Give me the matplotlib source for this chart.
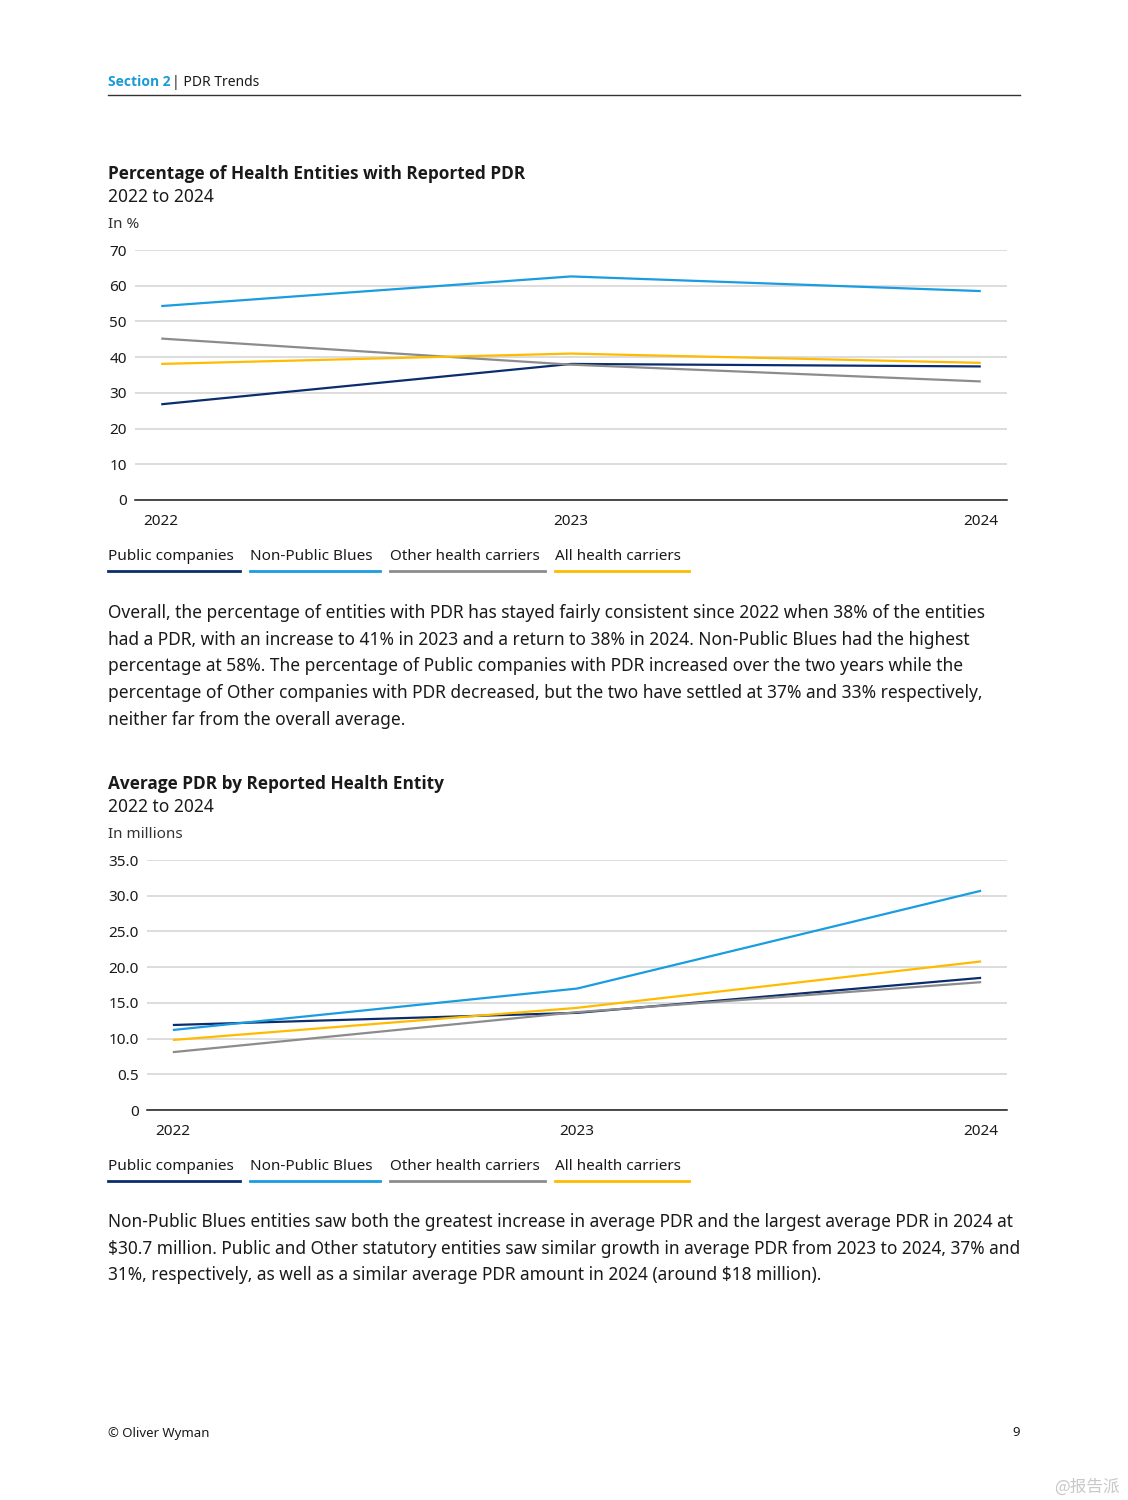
import matplotlib
matplotlib.use('Agg')
import matplotlib.pyplot as plt
from matplotlib.lines import Line2D

plt.rcParams['font.family'] = ['Noto Sans', 'DejaVu Sans']

W, H = 1128, 1500

years = ['2022', '2023', '2024']
series = ['Public companies', 'Non-Public Blues', 'Other health carriers', 'All health carriers']
colors = ['#0b2d6e', '#1a9de0', '#8c8c8c', '#ffbb00']

# chart 1: percentage of entities with reported PDR (in %)
pct_public = [26.8, 38.1, 37.4]
pct_blues = [54.3, 62.6, 58.5]
pct_other = [45.2, 37.9, 33.2]
pct_all = [38.1, 41.0, 38.4]
pct_ticks = [0, 10, 20, 30, 40, 50, 60, 70]
pct_labels = ['0', '10', '20', '30', '40', '50', '60', '70']

# chart 2: average PDR (in millions)
avg_public = [11.9, 13.6, 18.5]
avg_blues = [11.2, 17.0, 30.7]
avg_other = [8.1, 13.7, 17.9]
avg_all = [9.8, 14.3, 20.8]
avg_ticks = [0, 5, 10, 15, 20, 25, 30, 35]
avg_labels = ['0', '0.5', '10.0', '15.0', '20.0', '25.0', '30.0', '35.0']

text1 = ("Overall, the percentage of entities with PDR has stayed fairly consistent since 2022 when 38% of the entities\n"
         "had a PDR, with an increase to 41% in 2023 and a return to 38% in 2024. Non-Public Blues had the highest\n"
         "percentage at 58%. The percentage of Public companies with PDR increased over the two years while the\n"
         "percentage of Other companies with PDR decreased, but the two have settled at 37% and 33% respectively,\n"
         "neither far from the overall average.")
text2 = ("Non-Public Blues entities saw both the greatest increase in average PDR and the largest average PDR in 2024 at\n"
         "$30.7 million. Public and Other statutory entities saw similar growth in average PDR from 2023 to 2024, 37% and\n"
         "31%, respectively, as well as a similar average PDR amount in 2024 (around $18 million).")

BOLD = ['Open Sans', 'DejaVu Sans']

fig = plt.figure(figsize=(W / 100, H / 100), dpi=100)
fig.patch.set_facecolor('white')


def fx(px):
    return px / W


def fy(py):
    return 1 - py / H


def txt(x, y, s, **kw):
    kw.setdefault('color', '#1a1a1a')
    kw.setdefault('va', 'center')
    fig.text(fx(x), fy(y), s, **kw)


# header
txt(108, 82, 'Section 2', color='#1a9ad6', fontsize=10, fontweight='bold', family=BOLD)
txt(172, 82, '| PDR Trends', fontsize=10)
fig.add_artist(Line2D([fx(108), fx(1020)], [fy(95), fy(95)], color='#333333', lw=1.0))


def draw_chart(left, top, bottom, data, ticks, labels, ymax, title, unit, title_y, legend_y):
    ax = fig.add_axes([fx(left), fy(bottom), fx(1007) - fx(left), fy(top) - fy(bottom)])
    x = range(len(years))
    for vals, c in zip(data, colors):
        ax.plot(x, vals, color=c, lw=1.6, solid_capstyle='butt')
    ax.set_xlim(-0.064, 2.064)
    ax.set_ylim(0, ymax)
    ax.set_yticks(ticks)
    ax.set_yticklabels(labels)
    ax.set_xticks(list(x))
    ax.set_xticklabels(years)
    ax.grid(axis='y', color='#dadada', lw=1.3)
    ax.set_axisbelow(True)
    for s in ['top', 'right', 'left']:
        ax.spines[s].set_visible(False)
    ax.spines['bottom'].set_color('#1a1a1a')
    ax.spines['bottom'].set_linewidth(1.1)
    ax.tick_params(length=0, labelsize=11, colors='#1a1a1a')
    ax.tick_params(axis='y', pad=6)
    ax.tick_params(axis='x', pad=10)
    ax.patch.set_alpha(0)

    txt(108, title_y + 2, title, fontsize=12.4, fontweight='bold', family=BOLD)
    txt(108, title_y + 25, '2022 to 2024', fontsize=12.5)
    txt(108, title_y + 53, unit, fontsize=11, color='#333333')

    # legend: text with coloured underline
    starts = [108, 250, 390, 555]
    ends = [240, 380, 545, 689]
    for name, c, x0, x1 in zip(series, colors, starts, ends):
        txt(x0, legend_y + 1, name, fontsize=11)
        fig.add_artist(Line2D([fx(x0), fx(x1)], [fy(legend_y + 15), fy(legend_y + 15)], color=c, lw=2.0))
    return ax


draw_chart(135, 250, 500, [pct_public, pct_blues, pct_other, pct_all], pct_ticks, pct_labels, 70,
           'Percentage of Health Entities with Reported PDR', 'In %', 172, 556)
txt(108, 604, text1, fontsize=12.5, va='top', linespacing=1.62)

draw_chart(147, 860, 1110, [avg_public, avg_blues, avg_other, avg_all], avg_ticks, avg_labels, 35,
           'Average PDR by Reported Health Entity', 'In millions', 782, 1166)
txt(108, 1213, text2, fontsize=12.45, va='top', linespacing=1.62)

# footer
txt(108, 1433, '\u00a9 Oliver Wyman', fontsize=9.5)
txt(1020, 1433, '9', fontsize=9.5, ha='right')
txt(1120, 1487, '@报告派', fontsize=12, ha='right', color='#c8c8c8',
    family=['Noto Sans CJK SC', 'DejaVu Sans'])

fig.savefig('out.png', dpi=100)
